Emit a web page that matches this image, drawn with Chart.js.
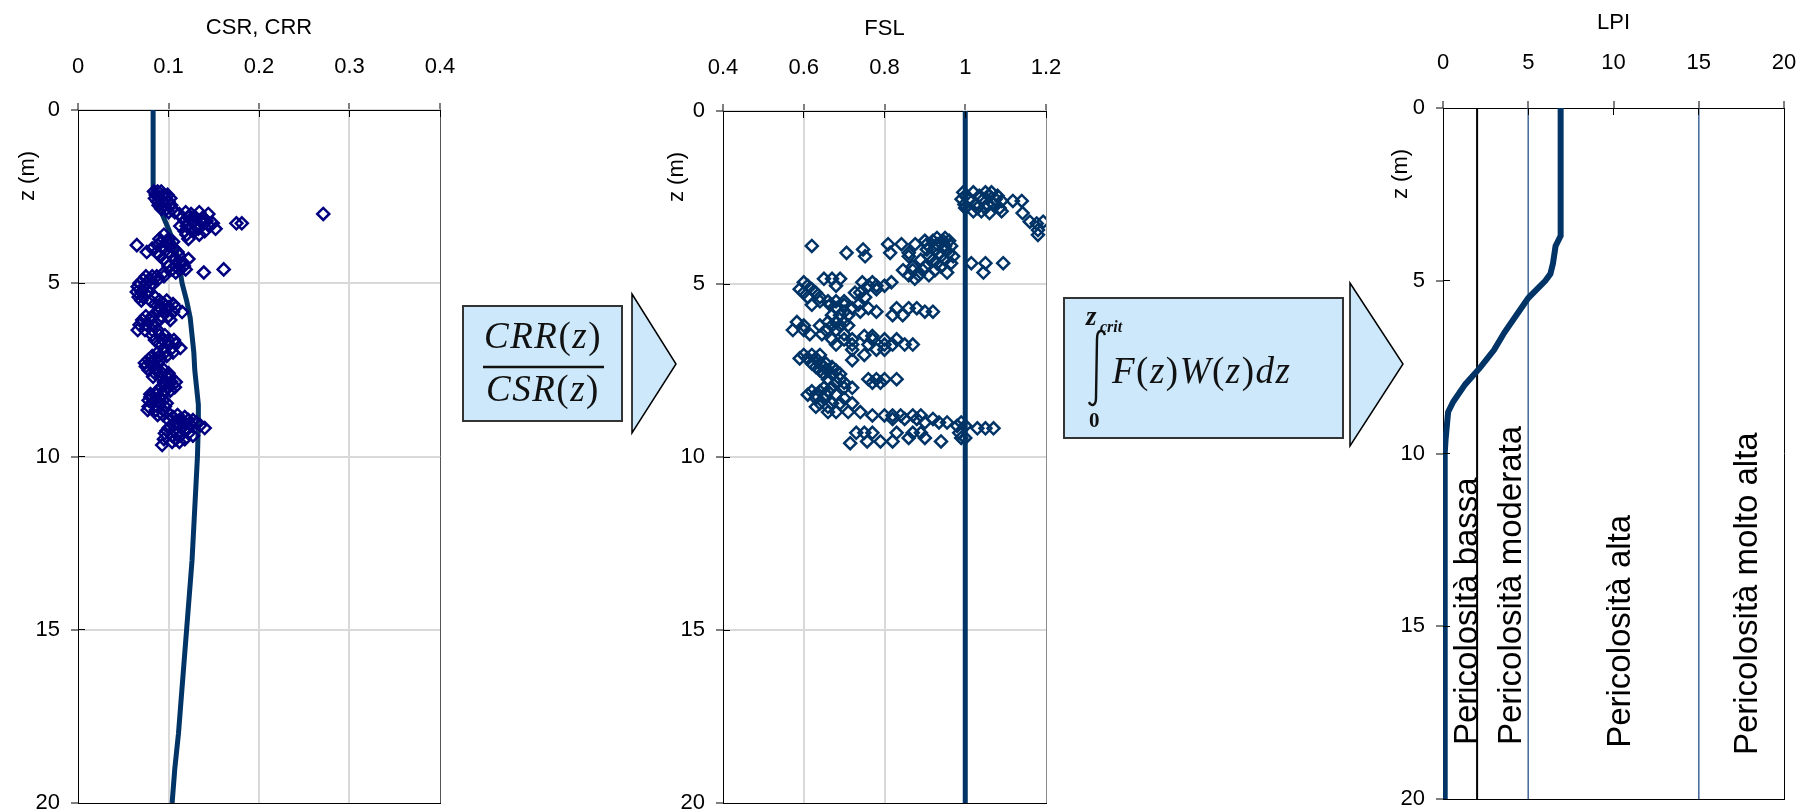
<!DOCTYPE html>
<html>
<head>
<meta charset="utf-8">
<script src="https://cdn.jsdelivr.net/npm/chart.js@4.4.0/dist/chart.umd.min.js"></script>
<style>
html, body { margin: 0; padding: 0; background: #fff; overflow: hidden; }
body { width: 1811px; height: 811px; position: relative; }
canvas { position: absolute; }
</style>
</head>
<body>
<canvas id="csrChart" style="left:0px;top:0px" width="480" height="829"></canvas>
<canvas id="fslChart" style="left:640px;top:1px" width="446" height="828"></canvas>
<canvas id="lpiChart" style="left:1370px;top:-2px" width="454" height="827"></canvas>

<svg width="1811" height="811" style="position:absolute;left:0;top:0">
  <g fill="#cce8fa" stroke="#333" stroke-width="2">
    <rect x="463" y="306" width="159" height="115"/>
    <rect x="1064" y="298" width="279" height="140"/>
  </g>
  <g fill="#cce8fa" stroke="#000" stroke-width="1.5">
    <polygon points="632,294 676,364 632,433"/>
    <polygon points="1350,283 1403,364 1350,446"/>
  </g>
  <g font-family="Liberation Serif, serif" fill="#111">
    <text x="543" y="348" font-size="37" letter-spacing="1.5" text-anchor="middle"><tspan font-style="italic">CRR</tspan>(<tspan font-style="italic">z</tspan>)</text>
    <line x1="483" y1="367" x2="604" y2="367" stroke="#111" stroke-width="2.5"/>
    <text x="543" y="401" font-size="37" letter-spacing="1.5" text-anchor="middle"><tspan font-style="italic">CSR</tspan>(<tspan font-style="italic">z</tspan>)</text>
    <text x="1086" y="325" font-size="27" font-style="italic" font-weight="bold">z</text>
    <text x="1100" y="332" font-size="16" font-style="italic" font-weight="bold">crit</text>
    <path d="M1105 335 C1103 329 1097 329 1097 339 L1096 398 C1096 406 1091 407 1089 402" fill="none" stroke="#111" stroke-width="2.4"/>
    <text x="1089" y="427" font-size="21" font-weight="bold">0</text>
    <text x="1112" y="383" font-size="37" letter-spacing="1.5"><tspan font-style="italic">F</tspan>(<tspan font-style="italic">z</tspan>)<tspan font-style="italic">W</tspan>(<tspan font-style="italic">z</tspan>)<tspan font-style="italic">dz</tspan></text>
  </g>
</svg>

<script>
//depth profile of CSR (line) and CRR (diamonds)
const csrDepth = [0, 2.3, 2.6, 3.0, 3.5, 4.0, 4.5, 5.0, 5.5, 6.0, 6.5, 7.0, 7.5, 8.0, 8.5, 9.0, 10.0, 11.0, 12.0, 13.0, 14.0, 15.0, 16.0, 17.0, 18.0, 19.0, 20.0]
const csrValue = [0.083, 0.083, 0.087, 0.093, 0.101, 0.108, 0.112, 0.115, 0.120, 0.124, 0.126, 0.128, 0.129, 0.131, 0.133, 0.133, 0.132, 0.130, 0.128, 0.126, 0.123, 0.120, 0.117, 0.114, 0.111, 0.107, 0.104]

const crrDepth = [2.35, 2.45, 2.55, 2.65, 2.75, 2.85, 2.95, 3.0, 3.1, 3.2, 3.27, 3.35, 3.43, 3.5, 3.6, 3.72, 3.8, 3.9, 4.0, 4.1, 4.2, 4.3, 4.4, 4.5, 4.6, 4.69, 4.8, 4.9, 5.0, 5.1, 5.25, 5.4, 5.5, 5.6, 5.7, 5.83, 5.95, 6.06, 6.2, 6.35, 6.5, 6.64, 6.75, 6.87, 7.0, 7.1, 7.2, 7.3, 7.4, 7.5, 7.6, 7.7, 7.85, 8.0, 8.1, 8.2, 8.28, 8.38, 8.46, 8.56, 8.66, 8.8, 8.86, 8.95, 9.03, 9.1, 9.18, 9.25, 9.33, 9.4, 9.5, 9.58, 9.67]
const crrValues = [
    [0.084, 0.088, 0.092], [0.086, 0.095, 0.099], [0.085, 0.090, 0.097, 0.102], [0.088, 0.094, 0.100],
    [0.089, 0.096, 0.103], [0.092, 0.098, 0.104], [0.107, 0.119, 0.134, 0.100], [0.144, 0.112, 0.125, 0.271],
    [0.115, 0.122, 0.130, 0.138], [0.118, 0.128, 0.135, 0.142], [0.139, 0.149, 0.175, 0.181], [0.113, 0.120, 0.130, 0.145],
    [0.152, 0.124, 0.133], [0.118, 0.128, 0.140], [0.120, 0.134, 0.095], [0.122, 0.100, 0.090],
    [0.092, 0.098, 0.105], [0.065, 0.088, 0.100], [0.082, 0.094, 0.106], [0.076, 0.087, 0.100, 0.110],
    [0.090, 0.104, 0.112], [0.122, 0.095, 0.108], [0.098, 0.112, 0.116], [0.100, 0.108, 0.117],
    [0.161, 0.119, 0.104, 0.112], [0.139, 0.095, 0.108], [0.075, 0.082, 0.087, 0.095], [0.072, 0.080, 0.088],
    [0.068, 0.075, 0.082], [0.066, 0.073, 0.080], [0.065, 0.070, 0.078], [0.067, 0.072, 0.085],
    [0.070, 0.080, 0.090, 0.098], [0.085, 0.095, 0.105], [0.090, 0.100, 0.108], [0.088, 0.095, 0.105, 0.115],
    [0.075, 0.082, 0.092, 0.100], [0.071, 0.080, 0.090, 0.102], [0.068, 0.076, 0.084], [0.066, 0.074, 0.082, 0.088],
    [0.082, 0.090, 0.096], [0.085, 0.094, 0.100, 0.106], [0.090, 0.100, 0.108], [0.095, 0.104, 0.113],
    [0.088, 0.096, 0.105], [0.082, 0.090, 0.098], [0.078, 0.085, 0.091], [0.074, 0.080, 0.088],
    [0.075, 0.083], [0.078, 0.086, 0.095], [0.085, 0.093, 0.100], [0.083, 0.092, 0.098, 0.102],
    [0.095, 0.103, 0.108], [0.092, 0.100, 0.107], [0.088, 0.095, 0.102], [0.080, 0.087, 0.094],
    [0.080, 0.090], [0.078, 0.085, 0.094], [0.082, 0.090, 0.098], [0.078, 0.088, 0.096],
    [0.077, 0.086, 0.094], [0.088, 0.094, 0.102, 0.110], [0.105, 0.118], [0.100, 0.112, 0.122, 0.127],
    [0.108, 0.118, 0.131], [0.112, 0.125, 0.135], [0.100, 0.120, 0.140], [0.098, 0.106, 0.117],
    [0.096, 0.110, 0.122], [0.104, 0.113, 0.127], [0.095, 0.108, 0.118], [0.104, 0.112], [0.093]
]

//factor of safety FSL
const fslDepth = [2.35, 2.45, 2.55, 2.6, 2.7, 2.8, 2.9, 2.95, 3.2, 3.25, 3.44, 3.58, 3.67, 3.75, 3.85, 3.9, 4.0, 4.1, 4.2, 4.3, 4.4, 4.5, 4.6, 4.67, 4.75, 4.85, 4.95, 5.05, 5.15, 5.25, 5.38, 5.5, 5.6, 5.7, 5.8, 5.9, 6.1, 6.2, 6.33, 6.45, 6.5, 6.6, 6.75, 6.9, 7.05, 7.15, 7.2, 7.3, 7.4, 7.5, 7.6, 7.75, 7.85, 8.0, 8.1, 8.2, 8.3, 8.45, 8.55, 8.7, 8.8, 8.9, 9.0, 9.1, 9.17, 9.3, 9.45, 9.55, 9.6]
const fslValues = [
    [0.995, 1.02, 1.05, 1.065], [1.0, 1.035, 1.06, 1.08], [0.991, 1.012, 1.045, 1.075], [1.118, 1.14, 1.09],
    [0.998, 1.025, 1.055, 1.07], [1.0, 1.03, 1.05, 1.085], [1.09, 1.04, 1.02], [1.142, 1.06],
    [1.16, 1.193], [1.177], [1.18], [1.18],
    [0.93, 0.95], [0.9, 0.92, 0.945, 0.96], [0.809, 0.842, 0.876, 0.905, 0.93], [0.62, 0.95, 0.965],
    [0.747, 0.905, 0.925, 0.95], [0.706, 0.814, 0.86, 0.935, 0.96], [0.752, 0.86, 0.91, 0.94, 0.97], [0.89, 0.92, 0.95],
    [1.015, 1.05, 1.094, 0.965, 0.93], [0.87, 0.9, 0.94], [0.846, 0.87, 0.895, 0.925], [1.045, 0.955],
    [0.86, 0.885, 0.91], [0.65, 0.67, 0.69, 0.875], [0.6, 0.745, 0.77, 0.817], [0.61, 0.68, 0.76, 0.78, 0.8],
    [0.59, 0.62, 0.78], [0.6, 0.63, 0.727, 0.74], [0.61, 0.64, 0.752], [0.64, 0.66, 0.68, 0.7],
    [0.62, 0.665, 0.7, 0.735], [0.68, 0.72, 0.76, 0.83, 0.86, 0.88], [0.7, 0.74, 0.78, 0.9, 0.92], [0.67, 0.69, 0.71, 0.82, 0.845],
    [0.583, 0.66, 0.68, 0.7], [0.6, 0.64, 0.67, 0.69, 0.71], [0.573, 0.6, 0.655, 0.68], [0.615, 0.645, 0.7],
    [0.75, 0.77], [0.67, 0.7, 0.72, 0.77, 0.8, 0.83], [0.68, 0.72, 0.76, 0.8, 0.82, 0.85, 0.87], [0.72, 0.78, 0.8],
    [0.6, 0.62, 0.64, 0.75], [0.59, 0.61, 0.63], [0.72], [0.62, 0.64, 0.655],
    [0.63, 0.65, 0.67], [0.64, 0.66, 0.68], [0.65, 0.67, 0.69], [0.66, 0.69, 0.76, 0.78, 0.8, 0.83],
    [0.68, 0.7, 0.77, 0.79], [0.65, 0.67, 0.7, 0.72], [0.62, 0.64, 0.66], [0.61, 0.63, 0.655, 0.68],
    [0.63, 0.65, 0.7], [0.64, 0.67, 0.69, 0.72], [0.63, 0.66], [0.66, 0.68, 0.71, 0.74],
    [0.77, 0.8, 0.82, 0.84, 0.87, 0.89], [0.82, 0.85, 0.88, 0.92], [0.9, 0.935, 0.955, 0.99], [0.98, 1.0],
    [1.03, 1.05, 1.07], [0.73, 0.75, 0.77, 0.83, 0.87, 0.89, 0.985], [0.86, 0.9, 0.99, 1.0], [0.757, 0.79, 0.82, 0.94],
    [0.715]
]
const fslLimit = 1

//liquefaction potential index
const lpiDepth = [0, 3.7, 4.0, 4.5, 4.8, 5.0, 5.5, 6.0, 6.5, 7.0, 7.5, 8.0, 8.5, 8.8, 9.6, 10.0, 20.0]
const lpiValue = [6.9, 6.9, 6.6, 6.45, 6.3, 6.0, 5.0, 4.3, 3.6, 3.0, 2.2, 1.3, 0.6, 0.3, 0.15, 0.1, 0.1]
const classLimits = [2, 5, 15]
const classColors = ['#000000', '#4a6d9c', '#4a6d9c']
const classLabels = ['Pericolosità bassa', 'Pericolosità moderata', 'Pericolosità alta', 'Pericolosità molto alta']
const classLabelLpi = [2.0, 4.57, 10.97, 18.4]
const classLabelDepth = [18.44, 18.44, 18.52, 18.73]

//build points
const toPoints = (depth, values) => depth.map((z, i) => ({x: values[i], y: z}))
const toScatter = (depth, rows) => depth.flatMap((z, i) => (rows[i] || []).map(v => ({x: v, y: z})))

const csrPoints = toPoints(csrDepth, csrValue)
const crrPoints = toScatter(crrDepth, crrValues)
const fslPoints = toScatter(fslDepth, fslValues)
const lpiPoints = toPoints(lpiDepth, lpiValue)

const family = '"Liberation Sans", Arial, sans-serif'
const axisFont = { family: family, size: 22, lineHeight: 1.2 }
Chart.defaults.font.family = family
Chart.defaults.font.size = 22
Chart.defaults.color = '#000'

const clear = 'rgba(0,0,0,0)'

//frame, inner half of cross ticks, depth title, hazard labels
const extras = {
    id: 'extras',
    afterDraw(chart, args, opts) {
        const {ctx, chartArea: a, scales: {x, y}} = chart
        const px = v => Math.round(v + 0.5) - 0.5
        ctx.save()
        ctx.lineWidth = 1
        ctx.strokeStyle = opts.rightColor
        ctx.beginPath(); ctx.moveTo(px(a.right), a.top); ctx.lineTo(px(a.right), a.bottom); ctx.stroke()
        ctx.strokeStyle = opts.bottomColor
        ctx.beginPath(); ctx.moveTo(a.left, px(a.bottom)); ctx.lineTo(a.right + 1, px(a.bottom)); ctx.stroke()

        ctx.strokeStyle = '#000'
        ctx.beginPath()
        x.ticks.forEach(t => { const p = px(x.getPixelForValue(t.value)); ctx.moveTo(p, a.top); ctx.lineTo(p, a.top + 7) })
        y.ticks.forEach(t => { const p = px(y.getPixelForValue(t.value)); ctx.moveTo(a.left, p); ctx.lineTo(a.left + 7, p) })
        ctx.stroke()

        ctx.fillStyle = '#000'
        ctx.font = '22px ' + family
        ctx.textAlign = 'center'
        ctx.textBaseline = 'middle'
        ctx.save()
        ctx.translate(a.left + opts.titleDx, a.top + 66)
        ctx.rotate(-Math.PI / 2)
        ctx.fillText('z (m)', 0, 0)
        ctx.restore()

        if (opts.classLabels) {
            ctx.font = '33px ' + family
            ctx.textAlign = 'left'
            ctx.textBaseline = 'alphabetic'
            classLabels.forEach((label, i) => {
                ctx.save()
                ctx.translate(x.getPixelForValue(classLabelLpi[i]), y.getPixelForValue(classLabelDepth[i]))
                ctx.rotate(-Math.PI / 2)
                ctx.fillText(label, 0, 0)
                ctx.restore()
            })
        }
        ctx.restore()
    }
}

//axis helpers, plot box fixed through afterFit
function valueAxis(min, max, step, title, gridColor, titlePad, tickPad) {
    return {
        type: 'linear', position: 'top', min: min, max: max,
        afterFit: s => { s.height = 110 },
        ticks: { stepSize: step, padding: tickPad, maxRotation: 0, autoSkip: false, font: axisFont, color: '#000',
                 callback: v => String(Math.round(v * 100) / 100) },
        title: { display: true, text: title, padding: { top: titlePad, bottom: 0 }, font: axisFont, color: '#000' },
        grid: { color: c => (c.index === 0 || c.tick.value > max - 1e-9) ? clear : gridColor,
                lineWidth: 2, tickColor: '#000', tickLength: 7, tickWidth: 1 },
        border: { color: '#000', width: 1 }
    }
}

function depthAxis(width, gridColor) {
    return {
        type: 'linear', reverse: true, min: 0, max: 20,
        afterFit: s => { s.width = width },
        ticks: { stepSize: 5, padding: 11, font: axisFont, color: '#000', callback: v => String(v) },
        grid: { color: c => (c.index === 0 || c.tick.value >= 20) ? clear : gridColor,
                lineWidth: 2, tickColor: '#000', tickLength: 7, tickWidth: 1 },
        border: { color: '#000', width: 1 }
    }
}

function baseOptions(padRight, padBottom, extraOpts, xAxis, yAxis) {
    return {
        animation: false, responsive: false, events: [],
        layout: { padding: { left: 0, top: 0, right: padRight, bottom: padBottom } },
        plugins: { legend: { display: false }, tooltip: { enabled: false }, extras: extraOpts },
        scales: { x: xAxis, y: yAxis }
    }
}

//CSR, CRR
new Chart(document.getElementById('csrChart'), {
    type: 'scatter',
    data: { datasets: [
        { data: crrPoints, pointStyle: 'rectRot', pointRadius: 6, borderWidth: 2.5,
          borderColor: '#000080', backgroundColor: clear },
        { data: csrPoints, showLine: true, pointRadius: 0, borderWidth: 5,
          borderColor: '#003366', backgroundColor: '#003366' }
    ]},
    options: baseOptions(40, 26, { rightColor: '#555', bottomColor: '#000', titleDx: -50 },
        valueAxis(0, 0.4, 0.1, 'CSR, CRR', '#d9d9d9', 15, 23), depthAxis(78, '#d9d9d9')),
    plugins: [extras]
})

//FSL
new Chart(document.getElementById('fslChart'), {
    type: 'scatter',
    data: { datasets: [
        { data: [{x: fslLimit, y: 0}, {x: fslLimit, y: 20}], showLine: true, pointRadius: 0, borderWidth: 5,
          borderColor: '#003366' },
        { data: fslPoints, pointStyle: 'rectRot', pointRadius: 6, borderWidth: 2.5,
          borderColor: '#003366', backgroundColor: clear }
    ]},
    options: baseOptions(40, 26, { rightColor: '#8c8c8c', bottomColor: '#000', titleDx: -46 },
        valueAxis(0.4, 1.2, 0.2, 'FSL', '#d9d9d9', 15, 23), depthAxis(83, '#d9d9d9')),
    plugins: [extras]
})

//LPI
const lpiDatasets = [
    { data: lpiPoints, showLine: true, pointRadius: 0, borderWidth: 6, borderColor: '#003366' }
].concat(classLimits.map((lim, i) => ({
    data: [{x: lim, y: 0}, {x: lim, y: 20}], showLine: true, pointRadius: 0,
    borderWidth: i === 0 ? 2 : 1, borderColor: classColors[i]
})))

new Chart(document.getElementById('lpiChart'), {
    type: 'scatter',
    data: { datasets: lpiDatasets },
    options: baseOptions(40, 26, { rightColor: '#000', bottomColor: '#000', titleDx: -42, classLabels: true },
        valueAxis(0, 20, 5, 'LPI', clear, 12, 25), depthAxis(73, clear)),
    plugins: [extras]
})
</script>
</body>
</html>
